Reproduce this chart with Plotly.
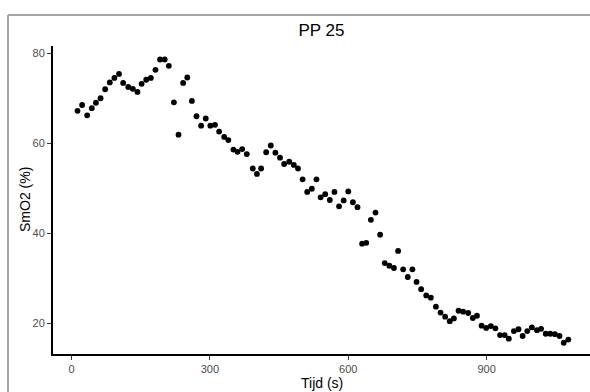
import plotly.graph_objects as go

title_text = "PP 25"
x_title = "Tijd (s)"
y_title = "SmO2 (%)"

tijd = [13, 23, 34, 44, 53, 63, 73, 83, 93, 103,
        112, 123, 133, 143, 152, 162, 172, 182, 192, 202,
        211, 222, 232, 242, 251, 261, 271, 281, 291, 301,
        311, 320, 331, 340, 351, 360, 370, 380, 393, 402,
        411, 422, 432, 442, 452, 461, 472, 482, 491, 501,
        511, 521, 531, 540, 550, 560, 570, 580, 590, 600,
        610, 620, 630, 639, 649, 659, 669, 679, 689, 699,
        708, 719, 729, 739, 748, 758, 769, 779, 790, 800,
        810, 820, 829, 839, 849, 860, 870, 879, 889, 899,
        909, 919, 929, 939, 948, 959, 969, 978, 988, 998,
        1009, 1018, 1028, 1038, 1048, 1058, 1067, 1077]

smo2 = [67.2, 68.5, 66.2, 67.8, 69.0, 70.0, 72.0, 73.5, 74.5, 75.4,
        73.4, 72.5, 72.1, 71.4, 73.2, 74.1, 74.5, 76.3, 78.6, 78.6,
        77.2, 69.1, 61.9, 73.4, 74.6, 69.4, 66.0, 63.9, 65.5, 63.9,
        64.1, 62.6, 61.4, 60.7, 58.6, 58.1, 58.7, 57.6, 54.4, 53.2,
        54.4, 58.0, 59.5, 57.9, 56.8, 55.4, 55.9, 55.2, 54.4, 52.0,
        49.2, 49.9, 52.0, 48.0, 48.7, 47.4, 49.2, 46.0, 47.3, 49.3,
        46.9, 45.8, 37.7, 37.9, 43.0, 44.6, 39.7, 33.4, 32.8, 32.3,
        36.1, 32.0, 30.3, 32.0, 29.2, 27.6, 26.2, 25.7, 23.7, 22.4,
        21.5, 20.5, 21.1, 22.8, 22.6, 22.3, 21.2, 21.7, 19.5, 19.0,
        19.4, 18.9, 17.4, 17.4, 16.6, 18.3, 18.7, 17.2, 18.3, 19.1,
        18.5, 18.8, 17.7, 17.7, 17.6, 17.2, 15.7, 16.4]

x_ticks = [0, 300, 600, 900]
y_ticks = [20, 40, 60, 80]

W, H = 590, 392
ML, MR, MT, MB = 53, 0, 46, 38
PW, PH = W - ML - MR, H - MT - MB


def px_x(p):
    return (p - ML) / PW


def px_y(p):
    return (H - MB - p) / PH


fig = go.Figure(go.Scatter(
    x=tijd, y=smo2, mode="markers",
    marker=dict(color="black", size=5.8),
    showlegend=False,
))

border = dict(color="#A6A6A6", width=2)
fig.update_layout(
    width=W, height=H,
    margin=dict(l=ML, r=MR, t=MT, b=MB, pad=0),
    paper_bgcolor="white", plot_bgcolor="white",
    font=dict(family="Liberation Sans, Arial, sans-serif", color="black"),
    title=dict(text=title_text, x=0.5, xref="paper", y=1 - 30 / H,
               yanchor="middle", xanchor="center",
               font=dict(size=17, color="black")),
    shapes=[
        dict(type="line", xref="paper", yref="paper",
             x0=px_x(8), x1=px_x(8), y0=px_y(15), y1=px_y(400), line=border),
        dict(type="line", xref="paper", yref="paper",
             x0=px_x(8), x1=px_x(600), y0=px_y(15), y1=px_y(15), line=border),
    ],
    annotations=[
        dict(text=x_title, xref="paper", yref="paper", x=0.5, y=px_y(383),
             xanchor="center", yanchor="middle", showarrow=False,
             font=dict(size=14, color="black")),
        dict(text=y_title, xref="paper", yref="paper", x=px_x(25), y=0.5,
             xanchor="center", yanchor="middle", showarrow=False, textangle=-90,
             font=dict(size=14, color="black")),
    ],
)

fig.update_xaxes(
    range=[-40.1, 1124], tickvals=x_ticks, ticktext=[str(v) for v in x_ticks],
    showgrid=False, zeroline=False, automargin=False,
    showline=True, linecolor="black", linewidth=2,
    ticks="outside", ticklen=4, tickcolor="#333333", tickwidth=1,
    tickfont=dict(size=11, color="#4D4D4D"),
)
fig.update_yaxes(
    range=[13.2, 81.6], tickvals=y_ticks, ticktext=[str(v) for v in y_ticks],
    showgrid=False, zeroline=False, automargin=False,
    showline=True, linecolor="black", linewidth=2,
    ticks="outside", ticklen=4, tickcolor="#333333", tickwidth=1,
    tickfont=dict(size=11, color="#4D4D4D"),
)

fig.write_html(
    "out.html",
    config={"displayModeBar": False},
    post_script="document.body.style.margin='0';document.body.style.padding='0';"
                "document.body.style.overflow='hidden';",
)
